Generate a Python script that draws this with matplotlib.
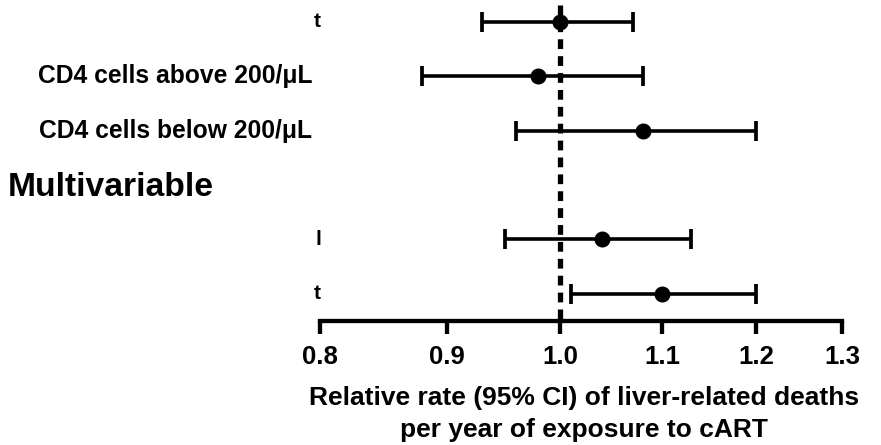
import numpy as np
import matplotlib
matplotlib.use("Agg")
from matplotlib import pyplot as plt
import matplotlib.transforms as mtransforms

plt.rcParams['font.family'] = ['Liberation Sans', 'DejaVu Sans']

labels = ["t", "CD4 cells above 200/\u03bcL", "CD4 cells below 200/\u03bcL", "Multivariable", "l", "t"]
rate = [1.00, 0.98, 1.08, np.nan, 1.04, 1.10]
ci_low = [0.93, 0.88, 0.96, np.nan, 0.95, 1.01]
ci_high = [1.07, 1.08, 1.20, np.nan, 1.13, 1.20]
x_ticks = [0.8, 0.9, 1.0, 1.1, 1.2, 1.3]
x_tick_labels = ["0.8", "0.9", "1.0", "1.1", "1.2", "1.3"]

fig = plt.figure(figsize=(8.81, 4.45), dpi=100)
ax = fig.add_axes([320 / 881, 1 - 321 / 445, 522 / 881, 321 / 445])

rows = np.arange(len(labels))
rate = np.array(rate)
lo = np.array(ci_low)
hi = np.array(ci_high)
ok = ~np.isnan(rate)

# reference line at RR = 1
ax.vlines(1.0, -0.31, 5.5, colors='black', linestyles=(0, (1.85, 1.35)), linewidth=3.8, zorder=1)
ax.errorbar(rate[ok], rows[ok], xerr=[rate[ok] - lo[ok], hi[ok] - rate[ok]],
            fmt='o', color='black', markersize=10.5, elinewidth=2.6,
            capsize=7, capthick=2.7, zorder=3)

ax.set_xscale('log')
ax.set_xlim(0.8, 1.3)
ax.set_ylim(5.5, -0.403)
ax.set_xticks(x_ticks)
ax.set_xticklabels(x_tick_labels, fontsize=18.5, fontweight='bold')
ax.xaxis.set_minor_locator(matplotlib.ticker.NullLocator())
ax.tick_params(axis='x', direction='out', length=9.5, width=3.1, pad=8)
ax.set_yticks([])
for s in ['top', 'right', 'left']:
    ax.spines[s].set_visible(False)
ax.spines['bottom'].set_linewidth(3.1)

# row labels left of the axis
trans = mtransforms.blended_transform_factory(fig.transFigure, ax.transData)
for i, lab in enumerate(labels):
    if lab == "Multivariable":
        ax.text(8 / 881, i + 0.05, lab, transform=trans, ha='left', va='center',
                fontsize=24.2, fontweight='bold')
    elif len(lab) == 1:
        ax.text(321 / 881, i, lab, transform=trans, ha='right', va='center',
                fontsize=15, fontweight='bold')
    else:
        ax.text(312 / 881, i, lab, transform=trans, ha='right', va='center',
                fontsize=17.7, fontweight='bold')

fig.text(584 / 881, 1 - 414 / 445,
         "Relative rate (95% CI) of liver-related deaths\nper year of exposure to cART",
         ha='center', va='center', fontsize=19, fontweight='bold', linespacing=1.38)

fig.savefig("out.png", dpi=100)
